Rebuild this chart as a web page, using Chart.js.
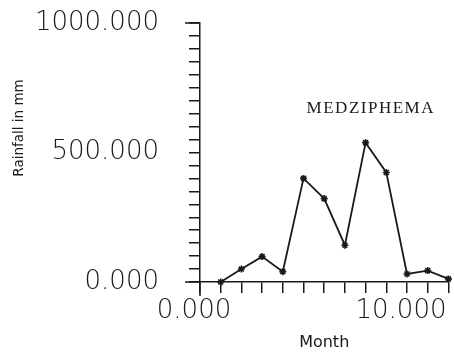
<!DOCTYPE html>
<html>
<head>
    <title>Medziphema rainfall</title>
    <script src="https://cdn.jsdelivr.net/npm/chart.js"></script>
    <style>
        html, body { margin: 0; padding: 0; background: #fff; }
    </style>
</head>
<body>
    <canvas id="myChart" width="454" height="354"></canvas>
    <script>
        // values
        var months = [1, 2, 3, 4, 5, 6, 7, 8, 9, 10, 11, 12];
        var rainfall = [0, 50, 98, 40, 400, 322, 142, 538, 423, 31, 44, 12];
        var stationName = 'MEDZIPHEMA';
        var stationLabelAt = [8.25, 668];   // month, mm
        var yTitle = 'Rainfall in mm';
        var xTitle = 'Month';

        var ink = '#1a1a1a';

        // longer ticks at the axis ends + the side title + station name
        var extras = {
            id: 'extras',
            afterDraw: function (chart) {
                var c = chart.ctx, xs = chart.scales.x, ys = chart.scales.y;
                var x0 = xs.getPixelForValue(0), y0 = ys.getPixelForValue(0);
                c.save();
                c.strokeStyle = ink;
                c.lineWidth = 1.5;
                c.beginPath();
                c.moveTo(x0 - 15, y0); c.lineTo(x0, y0);
                c.moveTo(x0 - 15, ys.getPixelForValue(1000)); c.lineTo(x0, ys.getPixelForValue(1000));
                c.moveTo(x0, y0); c.lineTo(x0, y0 + 14);
                c.stroke();

                c.fillStyle = ink;
                c.font = '13.5px "DejaVu Sans"';
                c.textAlign = 'center';
                c.textBaseline = 'middle';
                c.translate(19, 128);
                c.rotate(-Math.PI / 2);
                c.fillText(yTitle, 0, 0);
                c.restore();

                c.save();
                c.fillStyle = ink;
                c.font = '17px "Liberation Serif"';
                c.letterSpacing = '1.5px';
                c.textAlign = 'center';
                c.textBaseline = 'middle';
                c.fillText(stationName, xs.getPixelForValue(stationLabelAt[0]), ys.getPixelForValue(stationLabelAt[1]));
                c.restore();
            }
        };

        var ctx = document.getElementById('myChart').getContext('2d');
        var myChart = new Chart(ctx, {
            type: 'line',
            data: {
                datasets: [{
                    label: stationName,
                    data: months.map(function (m, i) { return { x: m, y: rainfall[i] }; }),
                    borderColor: ink,
                    borderWidth: 1.8,
                    tension: 0,
                    fill: false,
                    pointStyle: 'star',
                    pointRadius: 3.5,
                    pointBorderWidth: 1.6,
                    pointBorderColor: ink,
                    pointBackgroundColor: ink,
                    clip: false
                }]
            },
            options: {
                responsive: false,
                animation: false,
                devicePixelRatio: 1,
                layout: { padding: { top: 23, right: 4, left: 0, bottom: 0 } },
                plugins: { legend: { display: false }, tooltip: { enabled: false } },
                scales: {
                    x: {
                        type: 'linear',
                        min: 0,
                        max: 12,
                        afterFit: function (s) { s.height = 72; s.paddingLeft = 0; s.paddingRight = 0; },
                        grid: { drawOnChartArea: false, drawTicks: true, tickLength: 11, color: ink, lineWidth: 1.5 },
                        border: { display: true, color: ink, width: 1.5 },
                        ticks: {
                            stepSize: 1,
                            autoSkip: false,
                            maxRotation: 0,
                            padding: 3,
                            labelOffset: -6,
                            color: ink,
                            font: { family: 'DejaVu Sans', size: 26, weight: 300 },
                            callback: function (v) { return v % 10 === 0 ? v.toFixed(3) : ''; }
                        },
                        title: {
                            display: true,
                            text: xTitle,
                            color: ink,
                            font: { family: 'DejaVu Sans', size: 16 },
                            padding: { top: 0, bottom: 2 }
                        }
                    },
                    y: {
                        min: 0,
                        max: 1000,
                        afterFit: function (s) { s.width = 200; s.paddingTop = 0; s.paddingBottom = 0; },
                        grid: { drawOnChartArea: false, drawTicks: true, tickLength: 11, color: ink, lineWidth: 1.5 },
                        border: { display: true, color: ink, width: 1.5 },
                        ticks: {
                            stepSize: 50,
                            autoSkip: false,
                            padding: 30,
                            color: ink,
                            font: { family: 'DejaVu Sans', size: 26, weight: 300 },
                            callback: function (v) { return v % 500 === 0 ? v.toFixed(3) : ''; }
                        }
                    }
                }
            },
            plugins: [extras]
        });
    </script>
</body>
</html>
